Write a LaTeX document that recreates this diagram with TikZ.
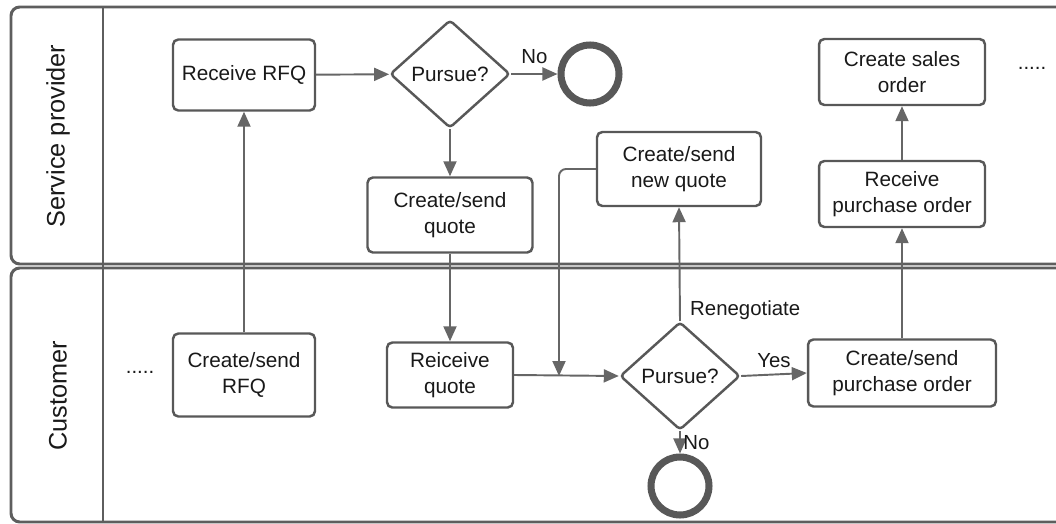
\documentclass[tikz,border=0pt]{standalone}
\usepackage{fontspec}
\setmainfont{Liberation Sans}
\usetikzlibrary{arrows.meta,shapes.geometric,positioning}
\definecolor{lanegray}{HTML}{5E5E5E}
\definecolor{boxgray}{HTML}{585858}
\definecolor{arrgray}{HTML}{666666}

\begin{document}
\begin{tikzpicture}[
    x=0.02cm, y=-0.02cm,
    box/.style={draw=boxgray, line width=1.4pt, rounded corners=3pt, align=center, inner sep=2pt, text=black!90, font=\fontsize{11.8}{15}\selectfont},
    gate/.style={draw=boxgray, line width=1.4pt, diamond, rounded corners=2pt, inner sep=0pt, minimum width=2.4cm, minimum height=2.16cm, text=black!90, font=\fontsize{11.8}{15}\selectfont},
    endev/.style={draw=boxgray, line width=4pt, circle, minimum size=1.16cm, inner sep=0pt},
    lanelbl/.style={rotate=90, text=black!90, font=\fontsize{14.4}{17}\selectfont},
    lbl/.style={text=black!90, font=\fontsize{11.6}{14}\selectfont},
    arr/.style={-{Triangle[length=0.3cm,width=0.26cm]}, draw=arrgray, line width=1.1pt}
]
\useasboundingbox (0,0) rectangle (1056,524);

% lanes
\draw[lanegray, line width=1.7pt, rounded corners=5pt] (1060,7) -- (11,7) -- (11,264) -- (1060,264);
\draw[lanegray, line width=1.7pt, rounded corners=5pt] (1060,268) -- (11,268) -- (11,522) -- (1060,522);
\draw[lanegray, line width=1.7pt] (103,7) -- (103,522);
\node[lanelbl] (sp) at (58,136) {Service provider};
\node[lanelbl] (cu) at (58,396) {Customer};

% service provider
\node[box, minimum width=2.84cm, minimum height=1.42cm] (rfq) at (244,75) {Receive RFQ};
\node[gate] (pur1) at (450,74) {Pursue?};
\node[endev] (end1) at (590,74) {};
\node[box, minimum width=3.3cm, minimum height=1.5cm] (quote) at (450,215) {Create/send\\quote};
\node[box, minimum width=3.28cm, minimum height=1.48cm] (newq) at (679,169) {Create/send\\new quote};
\node[box, minimum width=3.32cm, minimum height=1.32cm] (sales) at (902,72) {Create sales\\order};
\node[box, minimum width=3.32cm, minimum height=1.32cm] (recpo) at (902,194) {Receive\\purchase order};
\node[lbl] (dots2) at (1032,68) {.....};

% customer
\node[lbl] (dots1) at (140,372) {.....};
\node[box, minimum width=2.84cm, minimum height=1.66cm] (sendrfq) at (244,375) {Create/send\\RFQ};
\node[box, minimum width=2.52cm, minimum height=1.3cm] (recq) at (450,375) {Reiceive\\quote};
\node[gate] (pur2) at (680,376) {Pursue?};
\node[endev] (end2) at (680,486) {};
\node[box, minimum width=3.76cm, minimum height=1.34cm] (sendpo) at (902,373) {Create/send\\purchase order};
\coordinate (merge) at (559,376);

\draw[arr] (sendrfq) -- (rfq);
\draw[arr] (rfq) -- (pur1);
\draw[arr] (pur1) -- node[lbl, above, yshift=2pt] {No} (end1);
\draw[arr] (pur1) -- (quote);
\draw[arr] (quote) -- (recq);
\draw[arr] (recq.east) -- (pur2.west);
\draw[arr, rounded corners=4pt] (newq.west) -| (merge);
\draw[arr] (pur2.north) -- node[lbl, pos=0.09, anchor=west, xshift=2pt] {Renegotiate} (newq.south);
\draw[arr] (pur2.east) -- node[lbl, above] {Yes} (sendpo.west);
\draw[arr] (pur2.south) -- node[lbl, right, xshift=-2pt] {No} (end2.north);
\draw[arr] (sendpo) -- (recpo);
\draw[arr] (recpo) -- (sales);
\end{tikzpicture}
\end{document}
